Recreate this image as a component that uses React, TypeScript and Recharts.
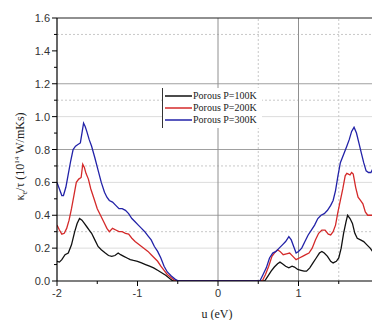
import React from "react";
import { LineChart, Line, XAxis, YAxis, ReferenceLine, Legend } from "recharts";

const x100 = [-2.0,-1.97,-1.94,-1.9,-1.86,-1.82,-1.78,-1.75,-1.72,-1.69,-1.66,-1.63,-1.6,-1.57,-1.53,-1.49,-1.45,-1.4,-1.36,-1.32,-1.28,-1.24,-1.21,-1.17,-1.13,-1.09,-1.05,-1.0,-0.95,-0.9,-0.85,-0.8,-0.75,-0.7,-0.65,-0.6,-0.56,0.58,0.62,0.66,0.7,0.74,0.77,0.8,0.84,0.88,0.92,0.95,0.99,1.03,1.07,1.1,1.14,1.18,1.22,1.26,1.29,1.32,1.36,1.4,1.43,1.47,1.5,1.53,1.56,1.59,1.61,1.64,1.67,1.7,1.73,1.77,1.81,1.85,1.89,1.92];
const k100 = [0.12,0.115,0.13,0.16,0.17,0.22,0.3,0.35,0.38,0.37,0.35,0.33,0.31,0.29,0.25,0.21,0.19,0.17,0.155,0.15,0.155,0.17,0.16,0.15,0.14,0.13,0.125,0.12,0.11,0.1,0.09,0.08,0.065,0.05,0.035,0.015,0.0,0.0,0.03,0.06,0.085,0.105,0.115,0.105,0.09,0.08,0.09,0.085,0.07,0.065,0.06,0.06,0.08,0.11,0.14,0.17,0.18,0.17,0.15,0.12,0.11,0.12,0.14,0.2,0.29,0.36,0.4,0.38,0.35,0.29,0.26,0.25,0.24,0.22,0.2,0.18];

const x200 = [-2.0,-1.97,-1.94,-1.91,-1.88,-1.85,-1.82,-1.79,-1.76,-1.73,-1.7,-1.68,-1.66,-1.64,-1.61,-1.58,-1.54,-1.5,-1.46,-1.42,-1.38,-1.35,-1.31,-1.27,-1.23,-1.19,-1.15,-1.11,-1.07,-1.03,-0.99,-0.95,-0.91,-0.87,-0.83,-0.79,-0.75,-0.71,-0.67,-0.63,-0.58,-0.53,0.55,0.59,0.63,0.67,0.7,0.74,0.77,0.81,0.85,0.89,0.93,0.97,1.01,1.05,1.09,1.13,1.17,1.21,1.25,1.29,1.33,1.37,1.4,1.43,1.46,1.49,1.52,1.55,1.58,1.6,1.62,1.64,1.66,1.68,1.71,1.74,1.77,1.8,1.83,1.86,1.92];
const k200 = [0.34,0.31,0.285,0.29,0.32,0.37,0.44,0.52,0.6,0.62,0.63,0.71,0.69,0.655,0.62,0.56,0.5,0.44,0.4,0.36,0.32,0.3,0.32,0.31,0.3,0.3,0.29,0.285,0.26,0.24,0.225,0.21,0.195,0.18,0.16,0.14,0.12,0.09,0.065,0.04,0.02,0.0,0.0,0.04,0.09,0.15,0.17,0.19,0.18,0.16,0.165,0.17,0.15,0.13,0.14,0.15,0.16,0.17,0.2,0.25,0.29,0.31,0.31,0.285,0.28,0.3,0.34,0.42,0.49,0.56,0.64,0.655,0.65,0.645,0.66,0.65,0.57,0.51,0.49,0.47,0.42,0.4,0.4];

const x300 = [-2.0,-1.97,-1.94,-1.92,-1.89,-1.86,-1.83,-1.8,-1.77,-1.74,-1.71,-1.69,-1.67,-1.65,-1.63,-1.6,-1.57,-1.53,-1.49,-1.45,-1.41,-1.38,-1.35,-1.31,-1.27,-1.23,-1.19,-1.15,-1.11,-1.07,-1.03,-0.99,-0.95,-0.91,-0.87,-0.83,-0.79,-0.75,-0.71,-0.67,-0.63,-0.58,-0.53,-0.49,0.52,0.56,0.6,0.64,0.68,0.72,0.76,0.8,0.84,0.88,0.91,0.94,0.97,1.0,1.04,1.08,1.12,1.16,1.2,1.24,1.28,1.32,1.36,1.4,1.43,1.46,1.49,1.52,1.56,1.6,1.63,1.66,1.69,1.72,1.75,1.78,1.81,1.84,1.87,1.9,1.92];
const k300 = [0.6,0.56,0.52,0.52,0.57,0.65,0.73,0.8,0.82,0.83,0.84,0.9,0.96,0.94,0.91,0.86,0.82,0.75,0.675,0.6,0.54,0.51,0.49,0.48,0.46,0.44,0.44,0.43,0.41,0.38,0.36,0.34,0.32,0.3,0.275,0.25,0.21,0.18,0.14,0.09,0.055,0.03,0.01,0.0,0.0,0.04,0.08,0.14,0.17,0.18,0.2,0.22,0.24,0.27,0.25,0.21,0.17,0.18,0.2,0.24,0.28,0.31,0.34,0.38,0.4,0.41,0.43,0.46,0.49,0.55,0.64,0.72,0.77,0.82,0.86,0.91,0.935,0.9,0.84,0.78,0.72,0.67,0.66,0.66,0.68];

const seriesNames = ["Porous P=100K", "Porous P=200K", "Porous P=300K"];
const seriesColors = ["#111111", "#d42a2a", "#2222a8"];

const xTicks = [-2, -1.5, -1, -0.5, 0, 0.5, 1, 1.5];
const xMajor = [-2, -1, 0, 1];
const yTicks = [0, 0.1, 0.2, 0.3, 0.4, 0.5, 0.6, 0.7, 0.8, 0.9, 1.0, 1.1, 1.2, 1.3, 1.4, 1.5, 1.6];
const gridSolidY = [0.4, 0.8, 1.2];
const gridLightY = [0.2, 0.6, 1.0];
const gridDotY = [0.3, 0.7, 1.1, 1.5];
const gridSolidX = [0, 1];
const gridDotX = [0.5, 1.5];

const toSeries = (xs: number[], ys: number[]) => xs.map((x, i) => ({ x, y: ys[i] }));
const data100 = toSeries(x100, k100);
const data200 = toSeries(x200, k200);
const data300 = toSeries(x300, k300);
const allData = [data100, data200, data300];

const isMajorY = (v: number) => Math.abs(Math.round(v * 10) % 2) === 0;

const YTick = (props: any) => {
  const { x, y, payload } = props;
  const major = isMajorY(payload.value);
  return (
    <g>
      <line x1={x - (major ? 5 : 3)} x2={x} y1={y} y2={y} stroke="#000" strokeWidth={1} />
      {major && (
        <text x={x - 7} y={y} dy={4} textAnchor="end" fontSize={11} fill="#333" fontFamily="Liberation Sans, Arial, sans-serif">
          {payload.value.toFixed(1)}
        </text>
      )}
    </g>
  );
};

const XTick = (props: any) => {
  const { x, y, payload } = props;
  const major = xMajor.includes(payload.value);
  return (
    <g>
      <line x1={x} x2={x} y1={y} y2={y + (major ? 5 : 3)} stroke="#000" strokeWidth={1} />
      {major && (
        <text x={x} y={y + 16} textAnchor="middle" fontSize={11} fill="#333" fontFamily="Liberation Sans, Arial, sans-serif">
          {String(payload.value)}
        </text>
      )}
    </g>
  );
};

const YLabel = (props: any) => {
  const vb = props.viewBox || { x: 0, y: 18, width: 57, height: 263 };
  const cx = 24;
  const cy = vb.y + vb.height / 2 + 7;
  return (
    <text x={cx} y={cy} transform={`rotate(-90, ${cx}, ${cy})`} textAnchor="middle" fontSize={12} fill="#222" fontFamily="Liberation Serif, Times New Roman, serif">
      κ<tspan dy={3} fontSize={8}>e</tspan>
      <tspan dy={-3}>/τ (10</tspan>
      <tspan dy={-5} fontSize={7}>14</tspan>
      <tspan dy={5}> W/mKs)</tspan>
    </text>
  );
};

const XLabel = (props: any) => {
  const vb = props.viewBox || { x: 57, y: 281, width: 315, height: 39 };
  return (
    <text x={217} y={vb.y + 37} textAnchor="middle" fontSize={12} fill="#222" fontFamily="Liberation Serif, Times New Roman, serif">
      u (eV)
    </text>
  );
};

const LegendBox = () => (
  <div style={{ borderLeft: "1px solid #333", background: "#fff", padding: "2px 0 2px 2px", fontFamily: "Liberation Serif, Times New Roman, serif", fontSize: 10, color: "#222" }}>
    {seriesNames.map((n, i) => (
      <div key={n} style={{ display: "flex", alignItems: "center", height: 12, lineHeight: "12px" }}>
        <svg width={27} height={12} style={{ display: "block" }}>
          <line x1={0} x2={27} y1={6} y2={6} stroke={seriesColors[i]} strokeWidth={1.5} />
        </svg>
        <span style={{ marginLeft: 1, whiteSpace: "nowrap" }}>{n}</span>
      </div>
    ))}
  </div>
);

export default function App() {
  return (
    <div style={{ position: "absolute", left: 0, top: 0, width: 372, height: 320, background: "#fff" }}>
      <LineChart width={372} height={320} margin={{ top: 18, right: 0, bottom: 0, left: 0 }}>
        <XAxis
          type="number"
          dataKey="x"
          domain={[-2, 1.913]}
          allowDataOverflow
          ticks={xTicks}
          interval={0}
          tickSize={0}
          tickMargin={0}
          height={39}
          axisLine={{ stroke: "#000", strokeWidth: 1.2 }}
          tickLine={false}
          tick={<XTick />}
          label={<XLabel />}
        />
        <YAxis
          type="number"
          domain={[0, 1.6]}
          allowDataOverflow
          ticks={yTicks}
          interval={0}
          tickSize={0}
          tickMargin={0}
          width={57}
          axisLine={{ stroke: "#000", strokeWidth: 1.2 }}
          tickLine={false}
          tick={<YTick />}
          label={<YLabel />}
        />
        {gridLightY.map((v) => (
          <ReferenceLine key={"l" + v} y={v} stroke="#dcdcdc" strokeWidth={1} />
        ))}
        {gridDotY.map((v) => (
          <ReferenceLine key={"d" + v} y={v} stroke="#c8c8c8" strokeDasharray="2 2" strokeWidth={1} />
        ))}
        {gridDotX.map((v) => (
          <ReferenceLine key={"dx" + v} x={v} stroke="#c8c8c8" strokeDasharray="2 2" strokeWidth={1} />
        ))}
        {gridSolidY.map((v) => (
          <ReferenceLine key={"s" + v} y={v} stroke="#a0a0a0" strokeWidth={1} />
        ))}
        {gridSolidX.map((v) => (
          <ReferenceLine key={"sx" + v} x={v} stroke="#909090" strokeWidth={1} />
        ))}
        <ReferenceLine y={1.6} stroke="#222" strokeWidth={1.2} />
        {allData.map((d, i) => (
          <Line
            key={seriesNames[i]}
            data={d}
            dataKey="y"
            name={seriesNames[i]}
            type="linear"
            stroke={seriesColors[i]}
            strokeWidth={1.3}
            dot={false}
            isAnimationActive={false}
          />
        ))}
        <Legend
          layout="vertical"
          align="center"
          verticalAlign="middle"
          content={<LegendBox />}
          wrapperStyle={{ left: 162, top: 88, width: 100, height: 42 }}
        />
      </LineChart>
    </div>
  );
}
